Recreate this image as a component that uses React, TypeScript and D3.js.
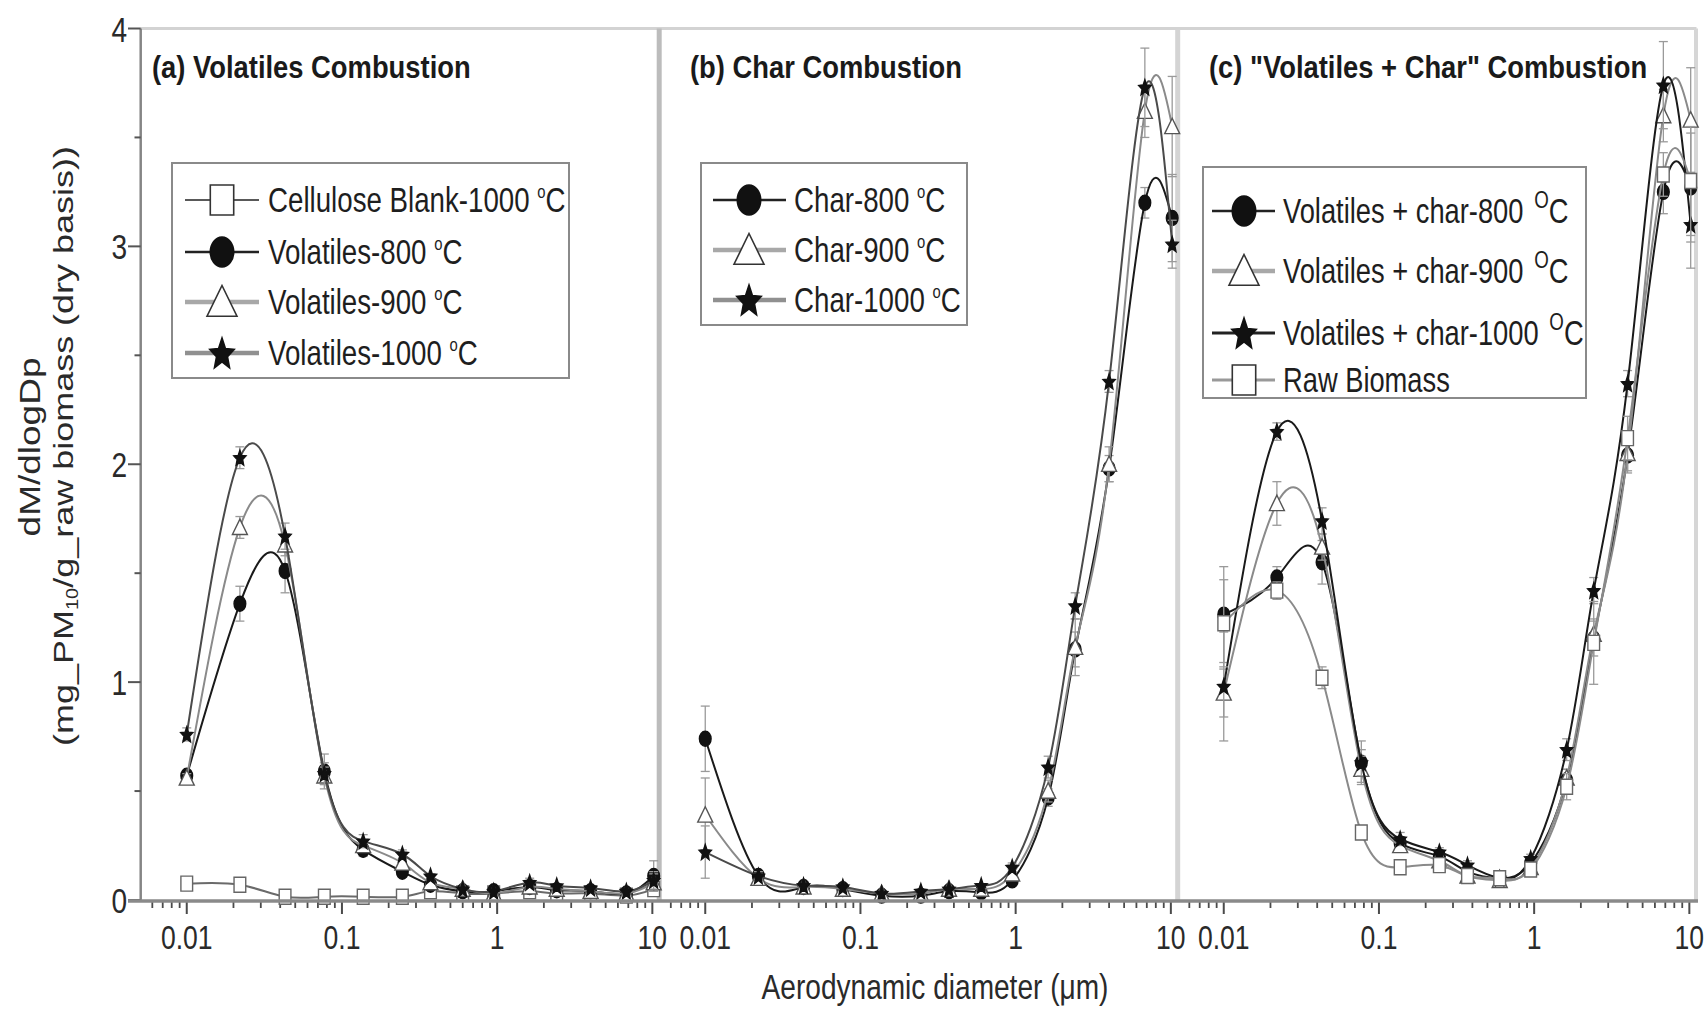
import React from 'react';
import * as d3 from 'd3';

// ---------------- data ----------------
const diameters = [0.01, 0.022, 0.043, 0.077, 0.137, 0.245, 0.372, 0.6, 0.95, 1.62, 2.42, 4.0, 6.8, 10.2];

// (a) Volatiles combustion
const celluloseBlank1000 = [0.075, 0.07, 0.015, 0.015, 0.015, 0.015, 0.04, 0.03, 0.03, 0.04, 0.03, 0.03, 0.02, 0.05];
const volatiles800 = [0.57, 1.36, 1.51, 0.59, 0.23, 0.13, 0.07, 0.04, 0.04, 0.06, 0.045, 0.04, 0.03, 0.11];
const volatiles900 = [0.56, 1.71, 1.63, 0.57, 0.25, 0.17, 0.08, 0.05, 0.03, 0.06, 0.05, 0.04, 0.03, 0.08];
const volatiles1000 = [0.76, 2.03, 1.67, 0.58, 0.27, 0.21, 0.11, 0.05, 0.04, 0.08, 0.065, 0.055, 0.04, 0.09];
const errCellulose = [0.01, 0.01, 0.01, 0.01, 0.01, 0.01, 0.01, 0.01, 0.01, 0.01, 0.01, 0.01, 0.01, 0.01];
const errVolatiles800 = [0.02, 0.08, 0.1, 0.08, 0.03, 0.02, 0.01, 0.01, 0.01, 0.02, 0.01, 0.01, 0.01, 0.07];
const errVolatiles900 = [0.02, 0.05, 0.05, 0.04, 0.02, 0.02, 0.01, 0.01, 0.01, 0.02, 0.01, 0.01, 0.01, 0.04];
const errVolatiles1000 = [0.03, 0.05, 0.06, 0.05, 0.03, 0.02, 0.01, 0.01, 0.01, 0.02, 0.01, 0.01, 0.01, 0.04];

// (b) Char combustion
const char800 = [0.74, 0.11, 0.06, 0.05, 0.02, 0.02, 0.04, 0.035, 0.09, 0.47, 1.15, 1.98, 3.2, 3.13];
const char900 = [0.39, 0.1, 0.06, 0.05, 0.03, 0.03, 0.05, 0.05, 0.12, 0.5, 1.16, 2.0, 3.62, 3.55];
const char1000 = [0.22, 0.11, 0.066, 0.06, 0.03, 0.04, 0.05, 0.066, 0.15, 0.61, 1.35, 2.38, 3.73, 3.01];
const errChar800 = [0.15, 0.02, 0.01, 0.01, 0.01, 0.01, 0.01, 0.01, 0.02, 0.04, 0.08, 0.06, 0.07, 0.2];
const errChar900 = [0.17, 0.02, 0.01, 0.01, 0.01, 0.01, 0.01, 0.01, 0.02, 0.05, 0.13, 0.08, 0.12, 0.23];
const errChar1000 = [0.12, 0.02, 0.01, 0.01, 0.01, 0.01, 0.01, 0.01, 0.02, 0.05, 0.06, 0.05, 0.18, 0.11];

// (c) "Volatiles + Char" combustion
const volChar800 = [1.31, 1.48, 1.55, 0.63, 0.26, 0.2, 0.13, 0.1, 0.17, 0.55, 1.2, 2.04, 3.25, 3.27];
const volChar900 = [0.95, 1.82, 1.62, 0.6, 0.25, 0.18, 0.11, 0.09, 0.15, 0.56, 1.22, 2.05, 3.6, 3.58];
const volChar1000 = [0.98, 2.15, 1.74, 0.63, 0.28, 0.22, 0.16, 0.1, 0.19, 0.69, 1.42, 2.37, 3.74, 3.1];
const rawBiomass = [1.27, 1.42, 1.02, 0.31, 0.15, 0.16, 0.11, 0.1, 0.14, 0.52, 1.18, 2.12, 3.33, 3.3];
const errVolChar800 = [0.22, 0.05, 0.1, 0.1, 0.03, 0.02, 0.02, 0.02, 0.02, 0.05, 0.08, 0.08, 0.1, 0.25];
const errVolChar900 = [0.11, 0.1, 0.06, 0.06, 0.03, 0.02, 0.02, 0.02, 0.02, 0.04, 0.07, 0.08, 0.12, 0.24];
const errVolChar1000 = [0.25, 0.04, 0.06, 0.06, 0.03, 0.02, 0.02, 0.02, 0.02, 0.05, 0.06, 0.06, 0.2, 0.2];
const errRawBiomass = [0.2, 0.04, 0.05, 0.03, 0.02, 0.02, 0.02, 0.02, 0.02, 0.06, 0.19, 0.1, 0.1, 0.25];

const xTickValues = [0.01, 0.1, 1, 10];
const xTickLabels = ['0.01', '0.1', '1', '10'];
const yTickValues = [0, 1, 2, 3, 4];
const yTickLabels = ['0', '1', '2', '3', '4'];

// ---------------- layout / style ----------------
const SX = 0.78; // horizontal squeeze of glyphs seen in the reference
const FONT = '"Liberation Sans", Arial, Helvetica, sans-serif';
const PANEL_W = 518.5;
const X_DOMAIN: [number, number] = [0.00505, 11.07];
const TEXT = '#1e1e1e';

type MarkerType = 'circle' | 'square' | 'triangle' | 'star';
interface Series {
  values: number[];
  err: number[];
  marker: MarkerType;
  line: string;
  lineW: number;
  fill: string;
  stroke: string;
  legLine: string;
  legLineW: number;
  label: string;
  sup: string;
}

const S_BLACK = { marker: 'circle' as MarkerType, line: '#1a1a1a', lineW: 2, fill: '#111', stroke: '#111', legLine: '#222', legLineW: 2.5 };
const S_GRAY = { marker: 'triangle' as MarkerType, line: '#8a8a8a', lineW: 2, fill: '#fff', stroke: '#555', legLine: '#a8a8a8', legLineW: 4.5 };
const S_STAR = { marker: 'star' as MarkerType, line: '#4a4a4a', lineW: 2, fill: '#111', stroke: '#111', legLine: '#909090', legLineW: 4.5 };

const panels = [
  {
    left: 140.7,
    title: '(a) Volatiles Combustion',
    titleX: 152,
    legend: { x0: 172, y0: 163, x1: 569, y1: 378, lx0: 185, lx1: 259, mx: 222, tx: 268, rows: [200, 252, 302, 353], fs: 35.5, supFs: 19, supDy: -14, supGap: false },
    series: [
      { values: celluloseBlank1000, err: errCellulose, marker: 'square' as MarkerType, line: '#6a6a6a', lineW: 2, fill: '#fff', stroke: '#666', legLine: '#222', legLineW: 1.6, label: 'Cellulose Blank-1000 ', sup: 'o' },
      { values: volatiles800, err: errVolatiles800, ...S_BLACK, label: 'Volatiles-800 ', sup: 'o' },
      { values: volatiles900, err: errVolatiles900, ...S_GRAY, label: 'Volatiles-900 ', sup: 'o' },
      { values: volatiles1000, err: errVolatiles1000, ...S_STAR, label: 'Volatiles-1000 ', sup: 'o' },
    ] as Series[],
  },
  {
    left: 659.2,
    title: '(b) Char Combustion',
    titleX: 690,
    legend: { x0: 701, y0: 163, x1: 967, y1: 325, lx0: 713, lx1: 786, mx: 749, tx: 794, rows: [200, 250, 300], fs: 35.5, supFs: 19, supDy: -14, supGap: false },
    series: [
      { values: char800, err: errChar800, ...S_BLACK, label: 'Char-800 ', sup: 'o' },
      { values: char900, err: errChar900, ...S_GRAY, label: 'Char-900 ', sup: 'o' },
      { values: char1000, err: errChar1000, ...S_STAR, label: 'Char-1000 ', sup: 'o' },
    ] as Series[],
  },
  {
    left: 1177.7,
    title: '(c) "Volatiles + Char" Combustion',
    titleX: 1209,
    legend: { x0: 1203, y0: 167, x1: 1586, y1: 398, lx0: 1212, lx1: 1275, mx: 1244, tx: 1283, rows: [211, 271, 333, 380], fs: 35, supFs: 24, supDy: -15, supGap: true },
    series: [
      { values: volChar800, err: errVolChar800, ...S_BLACK, label: 'Volatiles + char-800 ', sup: 'O' },
      { values: volChar900, err: errVolChar900, ...S_GRAY, label: 'Volatiles + char-900 ', sup: 'O' },
      { values: volChar1000, err: errVolChar1000, ...S_STAR, line: '#1a1a1a', legLine: '#222', legLineW: 3, label: 'Volatiles + char-1000 ', sup: 'O' },
      { values: rawBiomass, err: errRawBiomass, marker: 'square' as MarkerType, line: '#8a8a8a', lineW: 2, fill: '#fff', stroke: '#666', legLine: '#999', legLineW: 3, label: 'Raw Biomass', sup: '' },
    ] as Series[],
  },
];

// ---------------- helpers ----------------
function Marker({ type, cx, cy, r, fill, stroke, sw }: { type: MarkerType; cx: number; cy: number; r: number; fill: string; stroke: string; sw: number }) {
  if (type === 'circle') {
    return <ellipse cx={cx} cy={cy} rx={r * SX} ry={r} fill={fill} stroke={stroke} strokeWidth={sw} />;
  }
  let pts: [number, number][] = [];
  if (type === 'square') {
    pts = [[-r, -r], [r, -r], [r, r], [-r, r]];
  } else if (type === 'triangle') {
    pts = [[0, -1.1 * r], [1.28 * r, 0.95 * r], [-1.28 * r, 0.95 * r]];
  } else {
    const R = 1.1 * r;
    const ri = R * 0.45;
    for (let i = 0; i < 10; i++) {
      const a = -Math.PI / 2 + (i * Math.PI) / 5;
      const rr = i % 2 === 0 ? R : ri;
      pts.push([rr * Math.cos(a), rr * Math.sin(a) + 0.1 * r]);
    }
  }
  const d = 'M' + pts.map(([px, py]) => `${(cx + px * SX).toFixed(2)},${(cy + py).toFixed(2)}`).join('L') + 'Z';
  return <path d={d} fill={fill} stroke={stroke} strokeWidth={sw} strokeLinejoin="miter" />;
}

function Txt({ x, y, size, anchor = 'start', weight = 'normal', rotate = false, fill = TEXT, sx = SX, children }: any) {
  return (
    <g transform={`translate(${x},${y}) scale(${sx},1)${rotate ? ' rotate(-90)' : ''}`}>
      <text x={0} y={0} fontSize={size} textAnchor={anchor} fontWeight={weight} fill={fill} fontFamily={FONT}>
        {children}
      </text>
    </g>
  );
}

export default function App() {
  const y = d3.scaleLinear().domain([0, 4]).range([900, 28.5]);
  const yTop = y(4);
  const axisY = 901;

  const minorY = d3.range(0.5, 4, 1);

  return (
    <svg width={1707} height={1009} viewBox="0 0 1707 1009" style={{ position: 'absolute', left: 0, top: 0, background: '#fff' }}>
      <rect x={0} y={0} width={1707} height={1009} fill="#fff" />

      {/* top border */}
      <line x1={140.7} x2={1696.5} y1={yTop} y2={yTop} stroke="#d3d3d3" strokeWidth={3} />
      {/* panel dividers & right border */}
      <line x1={659.2} x2={659.2} y1={yTop} y2={axisY} stroke="#bcbcbc" strokeWidth={5} />
      <line x1={1177.7} x2={1177.7} y1={yTop} y2={axisY} stroke="#d4d4d4" strokeWidth={5} />
      <line x1={1696} x2={1696} y1={yTop} y2={axisY} stroke="#d6d6d6" strokeWidth={4} />

      {panels.map((p, pi) => {
        const x = d3.scaleLog().domain(X_DOMAIN).range([p.left, p.left + PANEL_W]);
        const line = d3
          .line<number>()
          .x((_, i) => x(diameters[i]))
          .y((v) => y(v))
          .curve(d3.curveNatural);

        // log ticks
        const ticks: { v: number; major: boolean }[] = [];
        for (let e = -3; e <= 1; e++) {
          for (let m = 1; m <= 9; m++) {
            const v = m * Math.pow(10, e);
            if (v >= X_DOMAIN[0] && v <= X_DOMAIN[1]) ticks.push({ v, major: m === 1 });
          }
        }
        const lg = p.legend;
        return (
          <g key={pi}>
            {/* x ticks */}
            {ticks.map((t, i) => (
              <line key={i} x1={x(t.v)} x2={x(t.v)} y1={axisY} y2={axisY + (t.major ? 13 : 7)} stroke="#4a4a4a" strokeWidth={t.major ? 2 : 1.8} />
            ))}
            {xTickValues.map((v, i) => (
              <Txt key={i} x={x(v)} y={949} size={34} anchor="middle" fill="#2a2a2a">
                {xTickLabels[i]}
              </Txt>
            ))}

            {/* series */}
            {p.series.map((s, si) => (
              <g key={si}>
                {s.values.map((v, i) =>
                  s.err[i] > 0.012 ? (
                    <g key={i} stroke="#9a9a9a" strokeWidth={1.3}>
                      <line x1={x(diameters[i])} x2={x(diameters[i])} y1={y(v - s.err[i])} y2={y(v + s.err[i])} />
                      <line x1={x(diameters[i]) - 4.5} x2={x(diameters[i]) + 4.5} y1={y(v + s.err[i])} y2={y(v + s.err[i])} />
                      <line x1={x(diameters[i]) - 4.5} x2={x(diameters[i]) + 4.5} y1={y(v - s.err[i])} y2={y(v - s.err[i])} />
                    </g>
                  ) : null
                )}
                <path d={line(s.values) || ''} fill="none" stroke={s.line} strokeWidth={s.lineW} />
                {s.values.map((v, i) => (
                  <Marker key={i} type={s.marker} cx={x(diameters[i])} cy={y(v)} r={7.5} fill={s.fill} stroke={s.stroke} sw={1.4} />
                ))}
              </g>
            ))}

            {/* panel title */}
            <Txt x={p.titleX} y={78} size={32} weight="bold" fill="#1a1a1a" sx={0.855}>
              {p.title}
            </Txt>

            {/* legend */}
            <rect x={lg.x0} y={lg.y0} width={lg.x1 - lg.x0} height={lg.y1 - lg.y0} fill="#fff" stroke="#8a8a8a" strokeWidth={2} />
            {p.series.map((s, si) => {
              const ry = lg.rows[si];
              return (
                <g key={si}>
                  <line x1={lg.lx0} x2={lg.lx1} y1={ry} y2={ry} stroke={s.legLine} strokeWidth={s.legLineW} />
                  <Marker type={s.marker} cx={lg.mx} cy={ry} r={15} fill={s.fill} stroke={s.marker === 'square' || s.marker === 'triangle' ? '#333' : s.stroke} sw={1.6} />
                  <Txt x={lg.tx} y={ry + 12} size={lg.fs} fill="#1e1e1e">
                    {s.label}
                    {s.sup ? (
                      <>
                        <tspan fontSize={lg.supFs} dy={lg.supDy} dx={lg.supGap ? 4 : 0}>
                          {s.sup}
                        </tspan>
                        <tspan dy={-lg.supDy}>C</tspan>
                      </>
                    ) : null}
                  </Txt>
                </g>
              );
            })}
          </g>
        );
      })}

      {/* left y axis */}
      <line x1={140.7} x2={140.7} y1={yTop} y2={axisY} stroke="#858585" strokeWidth={2.5} />
      {yTickValues.map((v, i) => (
        <g key={i}>
          <line x1={128} x2={140.7} y1={y(v)} y2={y(v)} stroke="#555" strokeWidth={2} />
          <Txt x={127} y={y(v) + 13} size={36} anchor="end" fill="#2a2a2a">
            {yTickLabels[i]}
          </Txt>
        </g>
      ))}
      {minorY.map((v, i) => (
        <line key={i} x1={134.5} x2={140.7} y1={y(v)} y2={y(v)} stroke="#555" strokeWidth={2} />
      ))}

      {/* x axis line */}
      <line x1={128} x2={1698} y1={axisY} y2={axisY} stroke="#8a8a8a" strokeWidth={3.5} />

      {/* axis titles */}
      <Txt x={935} y={999} size={36} anchor="middle" fill="#2a2a2a">
        Aerodynamic diameter (μm)
      </Txt>
      <Txt x={39.5} y={447} size={37} anchor="middle" rotate fill="#2a2a2a">
        dM/dlogDp
      </Txt>
      <Txt x={72.5} y={446} size={36} anchor="middle" rotate fill="#2a2a2a">
        (mg_PM
        <tspan fontSize={20} dy={7}>
          10
        </tspan>
        <tspan dy={-7}>/g_raw biomass (dry basis))</tspan>
      </Txt>
    </svg>
  );
}
